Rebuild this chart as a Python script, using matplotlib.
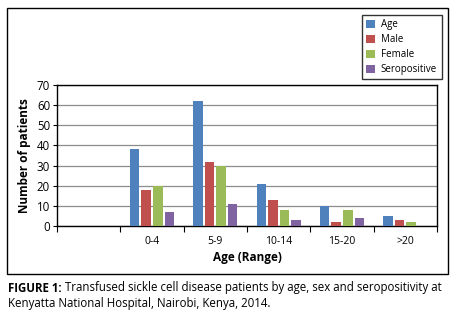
import matplotlib.pyplot as plt
from matplotlib.patches import Rectangle
import numpy as np

# ==========================
# DATA
# ==========================

categories = ["", "0-4", "5-9", "10-14", "15-20", ">20"]
series_names = ["Age", "Male", "Female", "Seropositive"]
age = [0, 38, 62, 21, 10, 5]
male = [0, 18, 32, 13, 2, 3]
female = [0, 20, 30, 8, 8, 2]
seropositive = [0, 7, 11, 3, 4, 0]
colors = ["#4F81BD", "#C0504D", "#9BBB59", "#8064A2"]

W, H = 454, 319
plt.rcParams['font.family'] = ['Open Sans', 'DejaVu Sans']

fig = plt.figure(figsize=(W / 100, H / 100), dpi=100)

# outer frame of the chart
fig.patches.append(Rectangle((7 / W, 1 - 274 / H), 441 / W, 266 / H,
                             transform=fig.transFigure, fill=False,
                             edgecolor="black", linewidth=1.0))

ax = fig.add_axes([57 / W, 1 - 226 / H, 380 / W, 141 / H])

x = np.arange(len(categories))
step = 0.184
width = 0.148
values = [age, male, female, seropositive]
for i, (name, vals, c) in enumerate(zip(series_names, values, colors)):
    ax.bar(x + (i - 1.5) * step, vals, width, color=c, label=name, zorder=3)

ax.set_xlim(-0.5, len(categories) - 0.5)
ax.set_ylim(0, 70)
ax.set_yticks(range(0, 71, 10))
ax.yaxis.grid(True, color="#8c8c8c", linewidth=0.9, zorder=0)

ax.set_xticks(np.arange(-0.5, len(categories)), [""] * (len(categories) + 1))
ax.set_xticks(x, categories, minor=True)
ax.tick_params(axis="x", which="major", length=4, direction="out")
ax.tick_params(axis="x", which="minor", length=0, labelsize=7.5, pad=7)
ax.tick_params(axis="y", length=3, labelsize=8.3, pad=2)

for s in ax.spines.values():
    s.set_color("black")
    s.set_linewidth(1.0)

ax.set_xlabel("Age (Range)", fontsize=8.5, fontweight="bold", labelpad=3)
ax.set_ylabel("Number of patients", fontsize=8.5, fontweight="bold", labelpad=4)

fig.legend(loc="upper left", bbox_to_anchor=(362 / W, 1 - 15 / H),
           fontsize=7, frameon=True, fancybox=False, edgecolor="black",
           handlelength=0.9, handleheight=0.9, handletextpad=0.6,
           borderpad=0.45, labelspacing=0.4, borderaxespad=0)

# caption
cap_size = 8.3
bold = fig.text(8 / W, 1 - 288 / H, "FIGURE 1:", fontsize=cap_size,
                fontweight="bold", va="center", ha="left")
renderer = fig.canvas.get_renderer()
x_end = bold.get_window_extent(renderer).x1
fig.text((x_end + 3) / W, 1 - 288 / H,
         "Transfused sickle cell disease patients by age, sex and seropositivity at",
         fontsize=cap_size, va="center", ha="left")
fig.text(8 / W, 1 - 304 / H, "Kenyatta National Hospital, Nairobi, Kenya, 2014.",
         fontsize=cap_size, va="center", ha="left")

fig.savefig("out.png", dpi=100)
